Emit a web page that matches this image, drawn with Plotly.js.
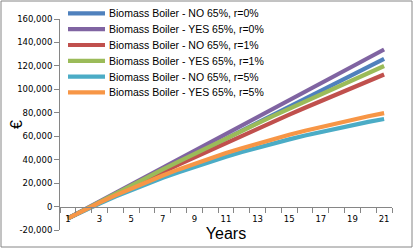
<!DOCTYPE html>
<html>
<head>
<meta charset="utf-8">
<script src="https://cdn.plot.ly/plotly-3.0.1.min.js"></script>
<style>
html,body{margin:0;padding:0;background:#fff;}
#chart{width:414px;height:249px;}
</style>
</head>
<body>
<div id="chart"></div>
<script>
const years = [1,2,3,4,5,6,7,8,9,10,11,12,13,14,15,16,17,18,19,20,21];
const seriesNames = [
  "Biomass Boiler - NO 65%, r=0%",
  "Biomass Boiler - YES 65%, r=0%",
  "Biomass Boiler - NO 65%, r=1%",
  "Biomass Boiler - YES 65%, r=1%",
  "Biomass Boiler - NO 65%, r=5%",
  "Biomass Boiler - YES 65%, r=5%"
];
const no_r0  = [-10000,-3200,3600,10400,17200,24000,30800,37600,44400,51200,58000,64800,71600,78400,85200,92000,98800,105600,112400,119200,126000];
const yes_r0 = [-10000,-2800,4400,11600,18800,26000,33200,40400,47600,54800,62000,69200,76400,83600,90800,98000,105200,112400,119600,126800,134000];
const no_r1  = [-10000,-3300,3400,10000,16500,23000,29400,35800,42000,48200,54400,60500,66500,72500,78400,84300,90100,95800,101500,107100,112700];
const yes_r1 = [-10000,-2900,4200,11200,18100,24900,31700,38400,45100,51700,58200,64600,71000,77400,83600,89800,96000,102000,108100,114000,119900];
const no_r5  = [-10000,-3500,2600,8500,14100,19400,24500,29300,33900,38300,42500,46500,50300,53900,57300,60600,63700,66700,69500,72200,74700];
const yes_r5 = [-10000,-3100,3400,9600,15500,21200,26500,31700,36500,41200,45600,49800,53800,57600,61300,64700,68000,71200,74200,77000,79700];
const xTickVals = [1,3,5,7,9,11,13,15,17,19,21];
const xTickText = ["1","3","5","7","9","11","13","15","17","19","21"];
const yTickVals = [-20000,0,20000,40000,60000,80000,100000,120000,140000,160000];
const yTickText = ["-20,000","0","20,000","40,000","60,000","80,000","100,000","120,000","140,000","160,000"];

const allSeries = [no_r0, yes_r0, no_r1, yes_r1, no_r5, yes_r5];
const colors = ["#4F81BD","#8064A2","#C0504D","#9BBB59","#4BACC6","#F79646"];

const traces = allSeries.map((vals,i)=>({
  x: years, y: vals, name: seriesNames[i], type:"scatter", mode:"lines",
  line:{color:colors[i], width:4.2}, showlegend:false
}));

const W = 414, H = 249;
const M = {l:60, r:22, t:19, b:19};
const pw = W - M.l - M.r, ph = H - M.t - M.b;
const px2x = p => (p - M.l)/pw;
const px2y = p => (H - M.b - p)/ph;

const yMin = -20000, yMax = 160000;
const axisPos = (0 - yMin)/(yMax - yMin);
const minorTicks = years.map(v=>v-0.5).concat([years[years.length-1]+0.5]);

// custom legend (rows ~15.8px apart, like the original)
const legShapes = [], legAnn = [];
seriesNames.forEach((n,i)=>{
  const cy = 13.4 + i*15.8;
  legShapes.push({type:"line", xref:"paper", yref:"paper",
    x0:px2x(68), x1:px2x(105), y0:px2y(cy), y1:px2y(cy),
    line:{color:colors[i], width:4.2}});
  legAnn.push({xref:"paper", yref:"paper", x:px2x(107), y:px2y(cy),
    xanchor:"left", yanchor:"middle", showarrow:false, text:n,
    font:{family:"Liberation Sans, Arial, sans-serif", size:10.5, color:"#000"}});
});
legAnn.push({xref:"paper", yref:"paper", x:px2x(16), y:px2y(125),
  xanchor:"center", yanchor:"middle", showarrow:false, text:"€", textangle:-90,
  font:{family:"Liberation Sans, Arial, sans-serif", size:16, color:"#000"}});

const layout = {
  width:W, height:H,
  margin:M,
  paper_bgcolor:"#fff", plot_bgcolor:"#fff",
  showlegend:false,
  xaxis:{
    range:[0.5,21.5], anchor:"free", position:axisPos,
    tickmode:"array", tickvals:xTickVals, ticktext:xTickText,
    ticks:"", showgrid:false, zeroline:false, ticklabelstandoff:4,
    showline:true, linecolor:"#868686", linewidth:1,
    tickfont:{family:"DejaVu Sans, sans-serif", size:8.5, color:"#000"},
    minor:{tickmode:"array", tickvals:minorTicks, ticks:"outside", ticklen:5, tickcolor:"#868686", tickwidth:1, showgrid:false},
    title:{text:"Years", font:{family:"Liberation Sans, Arial, sans-serif", size:16, color:"#000"}, standoff:5}
  },
  yaxis:{
    range:[yMin,yMax], tickmode:"array", tickvals:yTickVals, ticktext:yTickText,
    ticks:"outside", ticklen:5, tickcolor:"#868686", showgrid:false, zeroline:false,
    showline:true, linecolor:"#868686", linewidth:1,
    tickfont:{family:"DejaVu Sans, sans-serif", size:8.5, color:"#000"}
  },
  annotations: legAnn,
  shapes:[{type:"rect", xref:"paper", yref:"paper",
    x0:px2x(1), x1:px2x(412), y0:px2y(247), y1:px2y(1),
    line:{color:"#868686", width:1}, fillcolor:"rgba(0,0,0,0)"}].concat(legShapes)
};

Plotly.newPlot("chart", traces, layout, {displayModeBar:false, staticPlot:true});
</script>
</body>
</html>
